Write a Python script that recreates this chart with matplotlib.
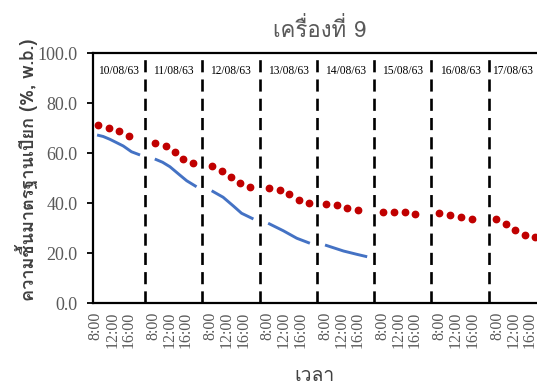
import matplotlib
matplotlib.use("Agg")
import matplotlib.pyplot as plt
from matplotlib import font_manager
from matplotlib.ft2font import FT2Font

# --- data -----------------------------------------------------------------
dates = ["10/08/63", "11/08/63", "12/08/63", "13/08/63",
         "14/08/63", "15/08/63", "16/08/63", "17/08/63"]
tick_hours = [8, 12, 16]
tick_labels = ["8:00", "12:00", "16:00"]

# red dotted series: clock time (h) and moisture per day
red_hours = [
    [8.6, 11.2, 13.7, 16.1],
    [8.5, 11.1, 13.3, 15.4, 17.8],
    [8.4, 10.9, 13.0, 15.2, 17.7],
    [8.3, 10.9, 13.3, 15.6, 18.2],
    [8.2, 10.9, 13.4, 16.1],
    [8.1, 10.8, 13.5, 16.1],
    [7.9, 10.6, 13.2, 15.9],
    [7.9, 10.2, 12.4, 14.8, 17.3],
]
red_values = [
    [71.2, 70.1, 68.7, 66.8],
    [64.1, 62.8, 60.3, 57.6, 56.1],
    [54.9, 52.9, 50.4, 47.9, 46.5],
    [46.1, 45.1, 43.6, 41.2, 40.1],
    [39.7, 39.1, 37.9, 37.1],
    [36.5, 36.5, 36.3, 35.7],
    [35.9, 35.3, 34.5, 33.7],
    [33.7, 31.6, 29.2, 27.3, 26.5],
]

# blue line series (first five days)
blue_hours = [
    [8.3, 9.8, 11.4, 13.0, 14.7, 16.7, 18.8],
    [8.4, 10.3, 12.1, 14.5, 16.2, 18.6],
    [8.3, 11.1, 13.6, 15.6, 18.5],
    [8.1, 11.8, 15.1, 18.3],
    [8.0, 12.5, 15.7, 18.3],
]
blue_values = [
    [67.2, 66.6, 65.5, 64.2, 62.8, 60.5, 59.2],
    [57.6, 56.3, 54.5, 51.2, 48.9, 46.5],
    [44.9, 42.3, 38.8, 35.9, 33.6],
    [31.9, 28.9, 25.9, 23.9],
    [23.2, 20.8, 19.5, 18.5],
]

# --- fonts ----------------------------------------------------------------
def find_thai_family():
    for f in font_manager.fontManager.ttflist:
        try:
            cmap = FT2Font(f.fname).get_charmap()
        except Exception:
            continue
        if ord("ค") in cmap and ord("เ") in cmap:
            return f.name
    return None

thai = find_thai_family()
thai_fam = [thai, "DejaVu Sans"] if thai else ["DejaVu Sans"]
serif = "Liberation Serif"

DAY_SPAN = 14      # hours shown per day (06:00 - 20:00)
START = 6

def xpos(day, hour):
    return day * DAY_SPAN + (hour - START)

# --- figure ---------------------------------------------------------------
fig = plt.figure(figsize=(5.37, 3.91), dpi=100)
ax = fig.add_axes([93 / 537, 88 / 391, 444 / 537, 250 / 391])
x0, x1 = 1.3, 109.8
ax.set_xlim(x0, x1)
ax.set_ylim(0, 100)

for d, (hs, vs) in enumerate(zip(blue_hours, blue_values)):
    ax.plot([xpos(d, h) for h in hs], vs, color="#4472C4", lw=2.1,
            solid_capstyle="butt", solid_joinstyle="round", zorder=3)

for d, (hs, vs) in enumerate(zip(red_hours, red_values)):
    ax.plot([xpos(d, h) for h in hs], vs, ls="none", marker="o",
            ms=4.6, color="#C00000", mec="#C00000", zorder=4)

for d in range(1, len(dates)):
    ax.axvline(d * DAY_SPAN, color="black", lw=1.9,
               ls=(0, (4.6, 2.7)), zorder=2)

for d, label in enumerate(dates):
    lo = max(d * DAY_SPAN, x0)
    hi = min((d + 1) * DAY_SPAN, x1)
    ax.text((lo + hi) / 2, 92.8, label, ha="center", va="center",
            fontsize=8.3, family=serif, color="black")

xticks, xlabels = [], []
for d in range(len(dates)):
    for h, lab in zip(tick_hours, tick_labels):
        xticks.append(xpos(d, h))
        xlabels.append(lab)
ax.set_xticks(xticks)
ax.set_xticklabels(xlabels, rotation=90, family=serif, fontsize=11.5,
                   color="#595959", va="top")
ax.tick_params(axis="x", length=0, pad=6)

ax.set_yticks([0, 20, 40, 60, 80, 100])
ax.set_yticklabels([f"{v:.1f}" for v in [0, 20, 40, 60, 80, 100]],
                   family=serif, fontsize=13, color="#595959")
ax.tick_params(axis="y", length=4, width=1.3, pad=7, direction="out")

for side in ["left", "bottom", "top"]:
    ax.spines[side].set_linewidth(1.6)
    ax.spines[side].set_color("black")
ax.spines["right"].set_visible(False)

fig.text(320 / 537, 1 - 30 / 391, "เครื่องที่ 9", ha="center", va="center",
         fontsize=16, color="#595959", family=thai_fam)
fig.text(27 / 537, 1 - 170 / 391, "ความชื้นมาตรฐานเปียก (%, w.b.)",
         rotation=90, ha="center", va="center", fontsize=13,
         color="#404040", family=thai_fam, fontweight="bold")
fig.text(315 / 537, 1 - 376 / 391, "เวลา", ha="center", va="center",
         fontsize=14, color="#404040", family=thai_fam)

fig.savefig("out.png", dpi=100)
